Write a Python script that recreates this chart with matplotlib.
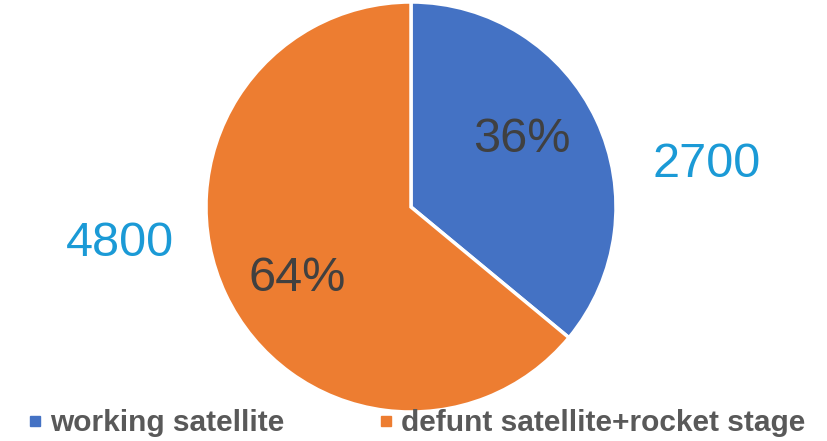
import matplotlib.pyplot as plt
from matplotlib.lines import Line2D

categories = ["working satellite", "defunt satellite+rocket stage"]
counts = [2700, 4800]
colors = ["#4472C4", "#ED7D31"]

plt.rcParams["font.family"] = ["Liberation Sans", "DejaVu Sans"]

W, H = 828, 441
fig = plt.figure(figsize=(W / 100, H / 100), dpi=100)

cx, cy, r = 411, 207, 205
ax = fig.add_axes([(cx - r) / W, (H - cy - r) / H, 2 * r / W, 2 * r / H])

wedges, _ = ax.pie(
    counts,
    colors=colors,
    startangle=90,
    counterclock=False,
    radius=1.0,
    wedgeprops=dict(edgecolor="white", linewidth=2.5),
)
ax.set_xlim(-1, 1)
ax.set_ylim(-1, 1)
ax.set_aspect("equal")
ax.axis("off")

total = sum(counts)
pct_pos = [(0.541, 0.33), (-0.556, -0.35)]
val_pos = [(1.444, 0.205), (-1.42, -0.176)]
for v, (px, py), (vx, vy) in zip(counts, pct_pos, val_pos):
    ax.text(px, py, f"{round(100 * v / total)}%", ha="center", va="center",
            fontsize=35, color="#404040", clip_on=False)
    ax.text(vx, vy, f"{v}", ha="center", va="center",
            fontsize=35, color="#1B9AD6", clip_on=False)

handles = [Line2D([], [], marker="s", linestyle="none", markersize=6.5,
                  markerfacecolor=c, markeredgecolor=c) for c in colors]
fig.legend(handles, categories, loc="center left", bbox_to_anchor=(29 / W, 1 - 423 / H),
           ncol=2, frameon=False, handlelength=0.4, handletextpad=0.3,
           columnspacing=3.2, borderaxespad=0, borderpad=0,
           prop=dict(size=21.5, weight="bold"), labelcolor="#595959")

fig.savefig("out.png", dpi=100)
